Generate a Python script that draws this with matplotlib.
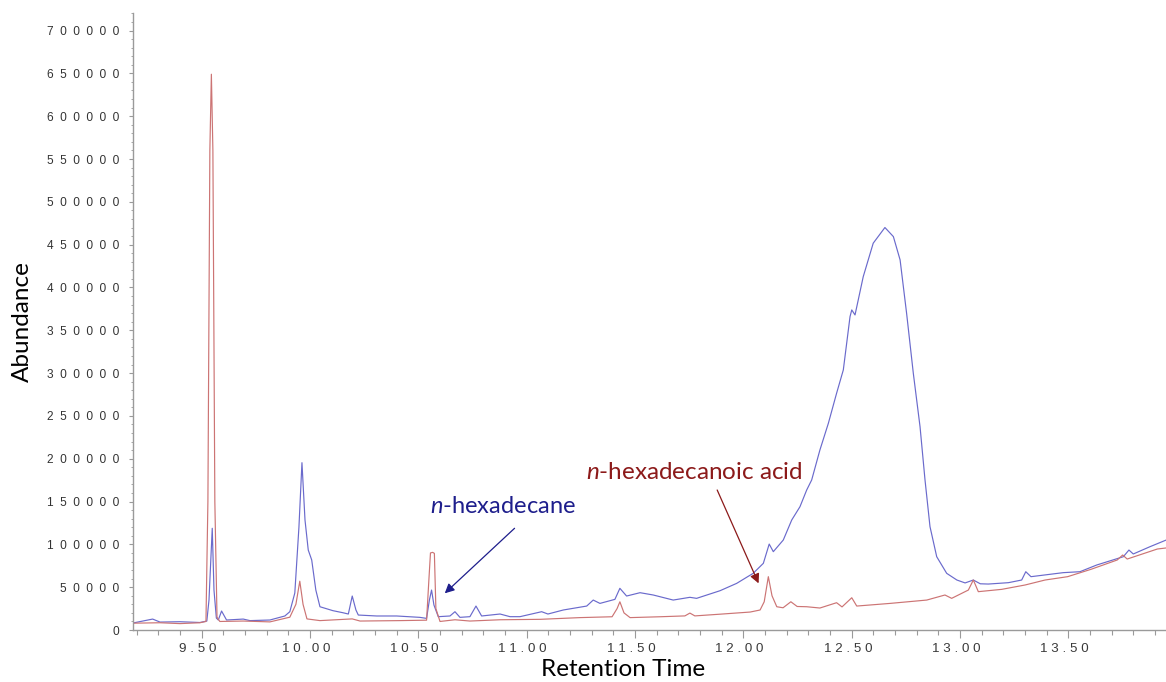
import matplotlib
matplotlib.use("Agg")
import matplotlib.pyplot as plt
from matplotlib.ticker import MultipleLocator, FuncFormatter
from matplotlib.transforms import ScaledTranslation
import numpy as np

plt.rcParams["mathtext.fontset"] = "custom"
plt.rcParams["mathtext.it"] = "Lato:italic"
plt.rcParams["mathtext.rm"] = "Lato"

# Chromatogram traces (retention time in min, abundance)
blue_time = [9.183, 9.274, 9.308, 9.400, 9.492, 9.524, 9.534, 9.549, 9.557, 9.568,
             9.577, 9.592, 9.615, 9.692, 9.723, 9.815, 9.884, 9.907, 9.930, 9.949,
             9.963, 9.977, 9.992, 10.008, 10.027, 10.046, 10.106, 10.152, 10.177, 10.195,
             10.212, 10.223, 10.308, 10.400, 10.507, 10.538, 10.551, 10.561, 10.572, 10.592,
             10.646, 10.669, 10.692, 10.738, 10.766, 10.792, 10.877, 10.923, 10.969, 11.069,
             11.098, 11.169, 11.277, 11.307, 11.338, 11.407, 11.430, 11.461, 11.523, 11.584,
             11.676, 11.753, 11.784, 11.892, 11.969, 12.045, 12.092, 12.119, 12.138, 12.184,
             12.223, 12.261, 12.292, 12.315, 12.353, 12.392, 12.430, 12.461, 12.492, 12.500,
             12.515, 12.553, 12.599, 12.653, 12.692, 12.723, 12.753, 12.784, 12.815, 12.838,
             12.861, 12.892, 12.938, 12.985, 13.023, 13.061, 13.093, 13.130, 13.223, 13.284,
             13.303, 13.327, 13.476, 13.553, 13.630, 13.753, 13.779, 13.799, 13.876, 13.950]
blue_abund = [8200, 12800, 9300, 9700, 8800, 10500, 35000, 118800, 46700, 14000,
              11700, 22200, 11700, 12800, 11000, 11700, 16400, 21400, 43200, 120000,
              195400, 128500, 93400, 81800, 46700, 27200, 22600, 20200, 18700, 39700,
              23400, 17500, 16400, 16400, 14800, 13600, 35000, 46700, 29200, 15600,
              16400, 21400, 14800, 15600, 28000, 16400, 18700, 15600, 15600, 21400,
              18700, 23400, 28000, 35000, 31100, 35800, 48700, 39700, 43600, 40900,
              35000, 38200, 37000, 45900, 54500, 66200, 77900, 100400, 91500, 105100,
              128500, 144000, 163500, 175200, 210200, 241400, 276500, 303700, 366000, 373800,
              367900, 412700, 451700, 470000, 459400, 432200, 369900, 299800, 237500, 175200,
              120700, 85600, 66200, 58400, 55000, 58400, 54000, 53700, 55300, 58400,
              68100, 62300, 67000, 68100, 75900, 85600, 93400, 88800, 97300, 105000]

red_time = [9.183, 9.308, 9.400, 9.492, 9.520, 9.529, 9.538, 9.545, 9.552, 9.561,
            9.571, 9.584, 9.692, 9.815, 9.907, 9.935, 9.953, 9.968, 9.986, 10.046,
            10.195, 10.231, 10.415, 10.538, 10.549, 10.556, 10.566, 10.574, 10.581, 10.600,
            10.669, 10.738, 10.877, 11.062, 11.246, 11.394, 11.417, 11.430, 11.449, 11.477,
            11.615, 11.730, 11.753, 11.776, 11.892, 12.031, 12.077, 12.096, 12.115, 12.132,
            12.154, 12.183, 12.219, 12.248, 12.292, 12.353, 12.430, 12.455, 12.500, 12.523,
            12.677, 12.846, 12.930, 12.961, 13.038, 13.061, 13.084, 13.192, 13.300, 13.392,
            13.496, 13.604, 13.725, 13.750, 13.771, 13.910, 13.950]
red_abund = [8000, 8500, 7500, 8500, 10000, 150000, 560000, 649000, 560000, 150000,
             15000, 10000, 10500, 9500, 15000, 30000, 57000, 30000, 13000, 11000,
             13000, 10500, 11000, 11500, 60000, 90000, 90700, 89500, 25000, 10000,
             12000, 10500, 12000, 12500, 14500, 15500, 25000, 33000, 20000, 14500,
             15500, 16500, 19800, 16500, 18500, 21000, 23400, 33000, 62300, 40000,
             27200, 26000, 33000, 27500, 27200, 25700, 31900, 27000, 37700, 28000,
             31100, 35000, 40900, 37000, 46700, 58400, 44800, 47500, 52600, 58400,
             62300, 70900, 81800, 87600, 82900, 94600, 95800]

x_major = [9.5, 10.0, 10.5, 11.0, 11.5, 12.0, 12.5, 13.0, 13.5]
y_major = list(range(0, 700001, 50000))

fig = plt.figure(figsize=(11.66, 6.82), dpi=100)
ax = fig.add_axes([0.114, 0.0762, 0.886, 0.905])

ax.plot(blue_time, blue_abund, color="#6a6acc", lw=0.85)
ax.plot(red_time, red_abund, color="#cc7474", lw=0.85)

ax.set_xlim(9.183, 13.95)
ax.set_ylim(0, 720700)

ax.set_xticks(x_major)
ax.xaxis.set_minor_locator(MultipleLocator(0.1))
ax.set_yticks(y_major)
ax.yaxis.set_minor_locator(MultipleLocator(10000))

ax.xaxis.set_major_formatter(FuncFormatter(lambda v, p: " ".join(f"{v:.2f}")))
ax.yaxis.set_major_formatter(FuncFormatter(lambda v, p: "  ".join(f"{int(v)}")))

for s in ["top", "right"]:
    ax.spines[s].set_visible(False)
for s in ["left", "bottom"]:
    ax.spines[s].set_color("#9a9a9a")
    ax.spines[s].set_linewidth(1.0)

ax.tick_params(axis="x", which="major", length=6, width=0.8, color="#9a9a9a",
               labelsize=9.6, labelcolor="#3a3a3a", pad=3)
ax.tick_params(axis="x", which="minor", length=3.5, width=0.8, color="#9a9a9a")
ax.tick_params(axis="y", which="major", length=3, width=0.8, color="#9a9a9a",
               labelsize=8.6, labelcolor="#333333", pad=7)
ax.tick_params(axis="y", which="minor", length=1.5, width=0.6, color="#9a9a9a")
for lab in ax.get_xticklabels() + ax.get_yticklabels():
    lab.set_family("Liberation Sans")
shift = ScaledTranslation(-0.04, 0, fig.dpi_scale_trans)
for lab in ax.get_xticklabels():
    lab.set_transform(lab.get_transform() + shift)

fig.text(0.019, 0.528, "Abundance", rotation=90, ha="center", va="center",
         fontsize=17.5, family="Lato", color="black")
fig.text(0.534, 0.019, "Retention Time", ha="center", va="center",
         fontsize=17.5, family="Lato", color="black")

# annotations
ax.annotate("", xy=(10.622, 42900), xytext=(10.944, 118800),
            arrowprops=dict(arrowstyle="-|>", color="#1e1e8c", lw=0.9,
                            mutation_scale=14, shrinkA=0, shrinkB=0))
ax.text(10.890, 143700, r"$\mathit{n}$-hexadecane", ha="center", va="center",
        fontsize=17, family="Lato", color="#1e1e8c")
ax.annotate("", xy=(12.070, 54500), xytext=(11.879, 163500),
            arrowprops=dict(arrowstyle="-|>", color="#8c1a1a", lw=0.9,
                            mutation_scale=14, shrinkA=0, shrinkB=0))
ax.text(11.771, 184500, r"$\mathit{n}$-hexadecanoic acid", ha="center", va="center",
        fontsize=17.5, family="Lato", color="#8c1a1a")

fig.savefig("out.png", dpi=100, facecolor="white")
